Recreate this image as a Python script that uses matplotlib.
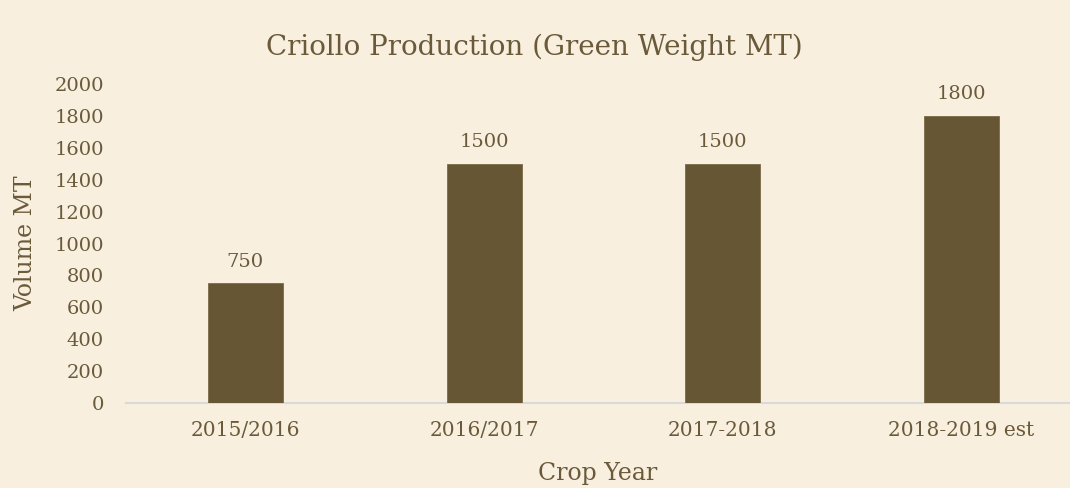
import matplotlib
matplotlib.use("Agg")
import matplotlib.pyplot as plt

categories = ["2015/2016", "2016/2017", "2017-2018", "2018-2019 est"]
values = [750, 1500, 1500, 1800]
yticks = [0, 200, 400, 600, 800, 1000, 1200, 1400, 1600, 1800, 2000]

bg = "#F8EFDF"
bar_c = "#665634"
txt = "#6A5A3A"

plt.rcParams['font.family'] = ['DejaVu Serif']

W, H = 1070, 488
fig = plt.figure(figsize=(W / 100, H / 100), dpi=100, facecolor=bg)
ax = fig.add_axes([126 / W, (H - 403) / H, (1070 - 126) / W, (403 - 84) / H])
ax.set_facecolor(bg)

x = list(range(len(categories)))
ax.bar(x, values, width=0.314, color=bar_c, edgecolor="#7A6A48", linewidth=0.6, zorder=3)
for xi, v in zip(x, values):
    ax.annotate(f"{v}", (xi, v), xytext=(0, 9), textcoords="offset points",
                ha="center", va="bottom", fontsize=14, color=txt)

ax.set_xlim(-0.5, 3.454)
ax.set_ylim(0, 2000)
ax.set_yticks(yticks)
ax.set_xticks(x)
ax.set_xticklabels(categories)
ax.tick_params(axis="both", length=0, labelsize=14, colors=txt)
ax.tick_params(axis="y", pad=16)
ax.tick_params(axis="x", pad=13)
ax.tick_params(axis="x", labelsize=14.5)
for s in ["top", "right", "left"]:
    ax.spines[s].set_visible(False)
ax.spines["bottom"].set_color("#D9D9D9")
ax.spines["bottom"].set_linewidth(1.5)

ax.set_ylabel("Volume MT", fontsize=17, color=txt, labelpad=12)
ax.set_xlabel("Crop Year", fontsize=17, color=txt, labelpad=16)
fig.text(534 / W, 1 - 47 / H, "Criollo Production (Green Weight MT)", ha="center", va="center",
         fontsize=20, color=txt)

fig.savefig("out.png", dpi=100, facecolor=bg)
